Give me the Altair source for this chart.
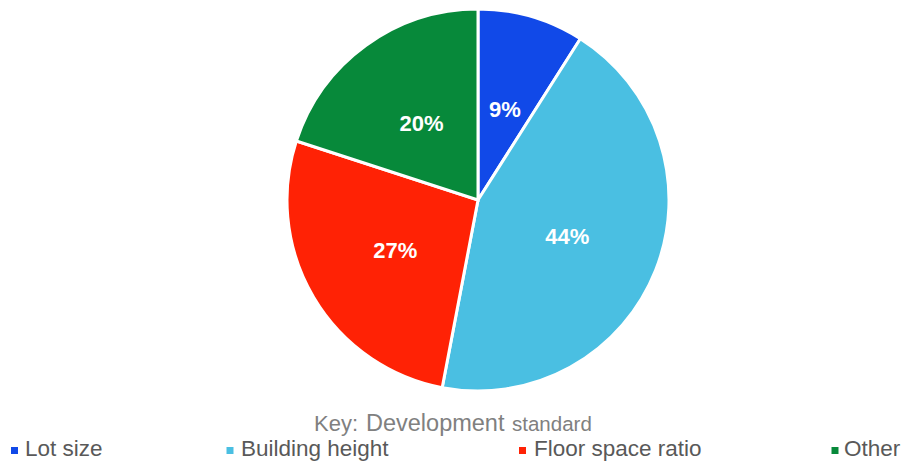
import altair as alt
import pandas as pd

categories = ["Lot size", "Building height", "Floor space ratio", "Other"]
values = [9, 44, 27, 20]
labels = ["9%", "44%", "27%", "20%"]
colors = ["#1149E8", "#4ABFE2", "#FF2205", "#07893A"]

df = pd.DataFrame({
    "category": categories,
    "value": values,
    "label": labels,
    "order": list(range(len(categories))),
})

FONT = "Liberation Sans"
CX, CY, R = 470, 192, 191

# legend layout (chart pixel coordinates)
legend_sym_x = [6.5, 222, 514.5, 827]
legend_lab_x = [17, 233, 526, 836]
LEG_Y = 442.5
LEG_BASE = 448

color_scale = alt.Scale(domain=categories, range=colors)

base = alt.Chart(df).encode(
    theta=alt.Theta("value:Q", stack=True),
    order=alt.Order("order:Q"),
)

arcs = base.mark_arc(radius=R, stroke="white", strokeWidth=3).encode(
    color=alt.Color("category:N", scale=color_scale, sort=categories, legend=None),
    x=alt.value(CX),
    y=alt.value(CY),
)

texts = base.mark_text(
    radius=96, fontSize=22, fontWeight="bold", color="white", font=FONT,
    align="center", baseline="middle", dy=2,
).encode(text="label:N", x=alt.value(CX), y=alt.value(CY))

legend_layers = []
for i, cat in enumerate(categories):
    sub = alt.Chart(df).transform_filter(alt.datum.category == cat)
    legend_layers.append(
        sub.mark_square(size=49, opacity=1).encode(
            x=alt.value(legend_sym_x[i]),
            y=alt.value(LEG_Y),
            color=alt.Color("category:N", scale=color_scale, legend=None),
        )
    )
    legend_layers.append(
        sub.mark_text(
            align="left", baseline="alphabetic", fontSize=22.5, color="#595959", font=FONT
        ).encode(
            x=alt.value(legend_lab_x[i]),
            y=alt.value(LEG_BASE),
            text="category:N",
        )
    )

one = pd.DataFrame({"k": [0]})
t_key = alt.Chart(one).mark_text(
    text="Key:", align="left", baseline="alphabetic", fontSize=22, color="#808080", font=FONT
).encode(x=alt.value(306), y=alt.value(423))
t_dev = alt.Chart(one).mark_text(
    text="Development", align="left", baseline="alphabetic", fontSize=23.5, color="#808080", font=FONT
).encode(x=alt.value(358), y=alt.value(423))
t_std = alt.Chart(one).mark_text(
    text="standard", align="left", baseline="alphabetic", fontSize=20.5, color="#808080", font=FONT
).encode(x=alt.value(504), y=alt.value(423))

chart = alt.layer(arcs, texts, *legend_layers, t_key, t_dev, t_std).properties(
    width=893, height=453, padding=0, autosize="none"
).configure(font=FONT).configure_view(stroke=None)

chart.save("out.html", embed_options={"renderer": "svg", "actions": False})
